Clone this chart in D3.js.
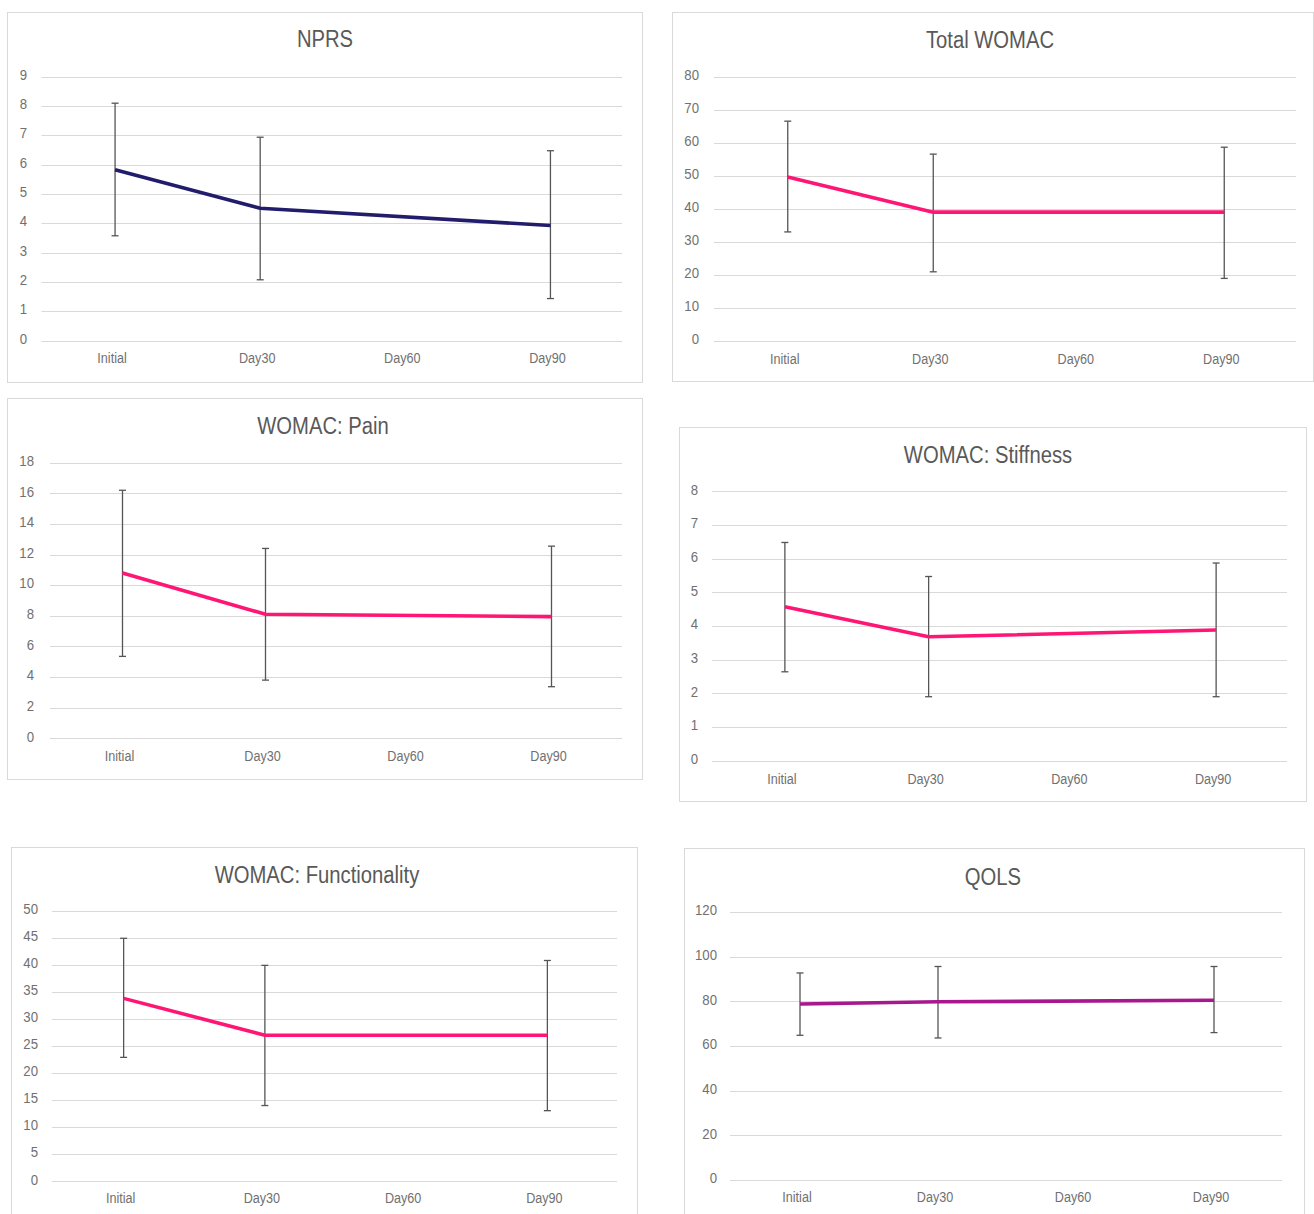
<!DOCTYPE html>
<html>
<head>
<meta charset="utf-8">
<script src="https://cdn.jsdelivr.net/npm/d3@7"></script>
<style>
  body { margin: 0; background: #fff; }
  svg { display: block; }
  text { font-family: "Liberation Sans Narrow", "Arial Narrow", "Liberation Sans", sans-serif; }
</style>
</head>
<body>
<svg id="chart" width="1314" height="1214"></svg>
<script>
// Time points (Day60 has no measurement, the line just passes over it)
const categories = ['Initial', 'Day30', 'Day60', 'Day90'];

const nprsMean = [5.82, 4.51, null, 3.92];
const nprsLow  = [3.57, 2.07, null, 1.43];
const nprsHigh = [8.09, 6.93, null, 6.47];

const totalMean = [49.7, 39.0, null, 39.0];
const totalLow  = [33.0, 20.9, null, 18.9];
const totalHigh = [66.6, 56.6, null, 58.7];

const painMean = [10.8, 8.1, null, 7.95];
const painLow  = [5.35, 3.8, null, 3.37];
const painHigh = [16.2, 12.4, null, 12.55];

const stiffMean = [4.57, 3.68, null, 3.88];
const stiffLow  = [2.64, 1.9, null, 1.9];
const stiffHigh = [6.48, 5.47, null, 5.87];

const funcMean = [33.8, 27.0, null, 27.0];
const funcLow  = [22.9, 14.0, null, 13.05];
const funcHigh = [44.9, 39.9, null, 40.8];

const qolsMean = [78.8, 79.8, null, 80.5];
const qolsLow  = [64.8, 63.6, null, 66.0];
const qolsHigh = [92.7, 95.6, null, 95.6];

const nprsTicks  = d3.range(0, 10, 1);
const totalTicks = d3.range(0, 90, 10);
const painTicks  = d3.range(0, 20, 2);
const stiffTicks = d3.range(0, 9, 1);
const funcTicks  = d3.range(0, 55, 5);
const qolsTicks  = d3.range(0, 140, 20);

const NAVY = '#211c6b';
const PINK = '#ff1674';
const MAGENTA = '#a8178e';

// panel layout: outer box, plot area, label positions
const panels = [
  { title: 'NPRS', mean: nprsMean, low: nprsLow, high: nprsHigh, ticks: nprsTicks, color: NAVY,
    box: [7, 12, 635, 370], px: [41.5, 622], py: [76.5, 340.5], tickX: 27, titleX: 325, titleY: 39, labY: 358 },
  { title: 'Total WOMAC', mean: totalMean, low: totalLow, high: totalHigh, ticks: totalTicks, color: PINK,
    box: [672, 12, 641, 369], px: [714, 1296], py: [77, 340.7], tickX: 699, titleX: 990, titleY: 40, labY: 359 },
  { title: 'WOMAC: Pain', mean: painMean, low: painLow, high: painHigh, ticks: painTicks, color: PINK,
    box: [7, 398, 635, 381], px: [50, 622], py: [462.7, 738.3], tickX: 34, titleX: 323, titleY: 426, labY: 756 },
  { title: 'WOMAC: Stiffness', mean: stiffMean, low: stiffLow, high: stiffHigh, ticks: stiffTicks, color: PINK,
    box: [679, 427, 627, 374], px: [712, 1287], py: [491.3, 760.7], tickX: 698, titleX: 988, titleY: 455, labY: 779 },
  { title: 'WOMAC: Functionality', mean: funcMean, low: funcLow, high: funcHigh, ticks: funcTicks, color: PINK,
    box: [11, 847, 626, 380], px: [52, 617], py: [910.7, 1181.3], tickX: 38, titleX: 317, titleY: 875, labY: 1198 },
  { title: 'QOLS', mean: qolsMean, low: qolsLow, high: qolsHigh, ticks: qolsTicks, color: MAGENTA,
    box: [684, 848, 620, 380], px: [730, 1282], py: [912, 1180], tickX: 717, titleX: 993, titleY: 877, labY: 1197 }
];

const svg = d3.select('#chart');

// squeeze text a bit, the original uses a narrow face
function condense(sel, k) {
  sel.each(function () {
    const w = this.getComputedTextLength();
    d3.select(this).attr('textLength', w * k).attr('lengthAdjust', 'spacingAndGlyphs');
  });
}

panels.forEach(p => {
  const g = svg.append('g');

  g.append('rect')
    .attr('x', p.box[0] + 0.5).attr('y', p.box[1] + 0.5)
    .attr('width', p.box[2]).attr('height', p.box[3])
    .attr('fill', '#fff').attr('stroke', '#d9d9d9');

  const x = d3.scaleBand().domain(categories).range(p.px).padding(0);
  const y = d3.scaleLinear()
    .domain([0, p.ticks[p.ticks.length - 1]])
    .range([p.py[1], p.py[0]]);
  const cx = c => x(c) + x.bandwidth() / 2;

  // gridlines
  g.selectAll('.grid')
    .data(p.ticks)
    .enter()
    .append('line')
    .attr('x1', p.px[0]).attr('x2', p.px[1])
    .attr('y1', d => Math.round(y(d)) + 0.5).attr('y2', d => Math.round(y(d)) + 0.5)
    .attr('stroke', '#d9d9d9').attr('stroke-width', 1.2);

  // y tick labels
  g.selectAll('.ytick')
    .data(p.ticks)
    .enter()
    .append('text')
    .attr('x', p.tickX)
    .attr('y', d => y(d) - 2)
    .attr('dy', '0.35em')
    .attr('text-anchor', 'end')
    .attr('fill', '#707070')
    .attr('font-size', '15px')
    .text(d => d)
    .call(condense, 0.88);

  // x labels
  g.selectAll('.xlab')
    .data(categories)
    .enter()
    .append('text')
    .attr('x', d => cx(d) - 2)
    .attr('y', p.labY)
    .attr('dy', '0.35em')
    .attr('text-anchor', 'middle')
    .attr('fill', '#707070')
    .attr('font-size', '14px')
    .text(d => d)
    .call(condense, 0.9);

  // title
  g.append('text')
    .attr('x', p.titleX)
    .attr('y', p.titleY)
    .attr('dy', '0.35em')
    .attr('text-anchor', 'middle')
    .attr('fill', '#595959')
    .attr('font-size', '23px')
    .text(p.title)
    .call(condense, 0.88);

  const pts = categories
    .map((c, i) => ({ c, m: p.mean[i], lo: p.low[i], hi: p.high[i] }))
    .filter(d => d.m != null);

  // error bars
  const eb = g.selectAll('.err').data(pts).enter().append('g');
  eb.append('line')
    .attr('x1', d => cx(d.c) + 1).attr('x2', d => cx(d.c) + 1)
    .attr('y1', d => y(d.lo)).attr('y2', d => y(d.hi))
    .attr('stroke', '#555').attr('stroke-width', 1.3);
  ['lo', 'hi'].forEach(k => {
    eb.append('line')
      .attr('x1', d => cx(d.c) - 2.5).attr('x2', d => cx(d.c) + 4.5)
      .attr('y1', d => y(d[k])).attr('y2', d => y(d[k]))
      .attr('stroke', '#555').attr('stroke-width', 1.3);
  });

  // mean line
  const line = d3.line().x(d => cx(d.c) + 1).y(d => y(d.m));
  g.append('path')
    .datum(pts)
    .attr('d', line)
    .attr('fill', 'none')
    .attr('stroke', p.color)
    .attr('stroke-width', 3.6)
    .attr('stroke-linejoin', 'round');
});
</script>
</body>
</html>
